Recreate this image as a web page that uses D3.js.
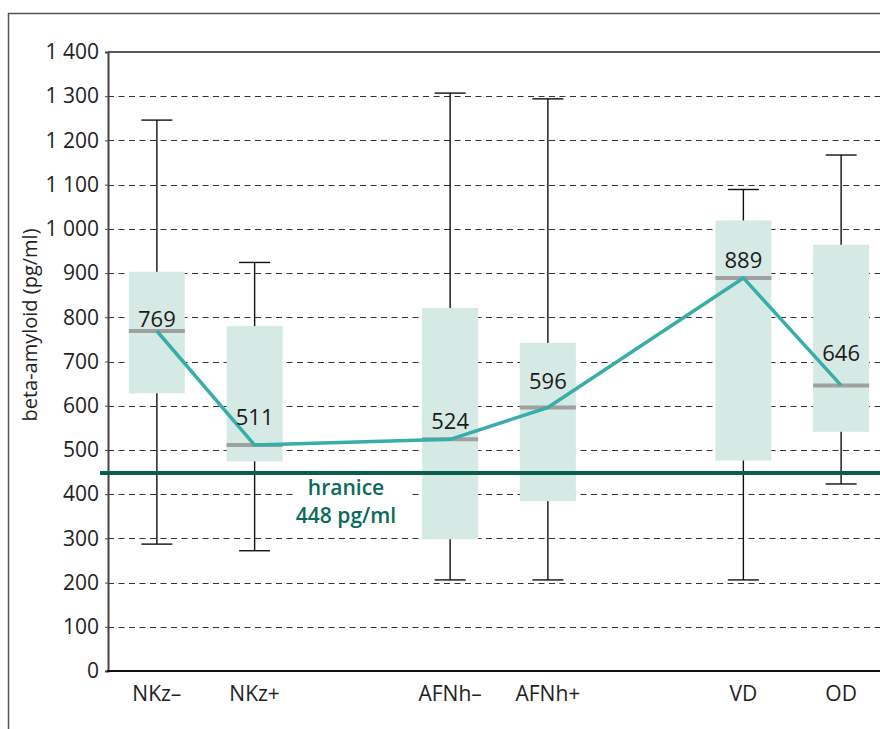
<!DOCTYPE html>
<html><head><meta charset="utf-8">
<script src="https://cdn.jsdelivr.net/npm/d3@7"></script>
<style>body{margin:0;background:#fff}svg{display:block}text{font-family:"Open Sans","Noto Sans",sans-serif}</style>
</head><body><svg id="c" width="880" height="729"></svg>
<script>
const slots = ["NKz–","NKz+","gap1","AFNh–","AFNh+","gap2","VD","OD"];
const categories = ["NKz–","NKz+","AFNh–","AFNh+","VD","OD"];
const whiskerLow  = [287, 272, 206, 206, 206, 423];
const boxLow      = [628, 474, 298, 384, 476, 541];
const median      = [769, 511, 524, 596, 889, 646];
const boxHigh     = [903, 780, 821, 742, 1019, 964];
const whiskerHigh = [1246, 924, 1307, 1294, 1089, 1167];
const medianLabels = ["769","511","524","596","889","646"];
const threshold = 448;
const thresholdLabel = ["hranice","448 pg/ml"];
const yTicks = [0,100,200,300,400,500,600,700,800,900,1000,1100,1200,1300,1400];
const yTitle = "beta-amyloid (pg/ml)";

const svg = d3.select("#c");
const x = d3.scalePoint().domain(slots).range([108, 890]).padding(0.5);
const y = d3.scaleLinear().domain([0,1400]).range([671, 52]);
const boxW = 56, capW = 31;
const labelDy = [-4, -20, -10, -18, -10, -24];
const fmt = v => d3.format(",")(v).replace(/,/g, " ");

// outer frame
svg.append("path").attr("d","M8.5,740V13.5H890").attr("fill","none").attr("stroke","#555").attr("stroke-width",1.5);

// gridlines
svg.append("g").selectAll("line").data(yTicks.filter(t=>t>0 && t<1400)).join("line")
  .attr("x1",108).attr("x2",890).attr("y1",d=>Math.round(y(d))+0.5).attr("y2",d=>Math.round(y(d))+0.5)
  .attr("stroke","#333").attr("stroke-width",1.2).attr("stroke-dasharray","6,4.5");
// top solid line
svg.append("line").attr("x1",108).attr("x2",890).attr("y1",y(1400)).attr("y2",y(1400)).attr("stroke","#222").attr("stroke-width",1.5);

// y axis
const yAxis = svg.append("g").attr("transform","translate(108,0)")
  .call(d3.axisLeft(y).tickValues(yTicks).tickFormat(fmt).tickSize(3).tickPadding(6));
yAxis.select(".domain").attr("stroke","#444").attr("stroke-width",2);
yAxis.selectAll(".tick line").attr("stroke","#444");
yAxis.selectAll("text").attr("font-size",21).attr("fill","#222").style("font-family",'"Open Sans",sans-serif');

// x axis baseline
svg.append("line").attr("x1",107).attr("x2",890).attr("y1",y(0)).attr("y2",y(0)).attr("stroke","#111").attr("stroke-width",2);
svg.append("g").selectAll("text").data(categories).join("text")
  .attr("x",d=>x(d)).attr("y",701).attr("text-anchor","middle").attr("font-size",21).attr("fill","#222").text(d=>d);

// y title
svg.append("text").attr("transform","translate(37,325) rotate(-90)").attr("text-anchor","middle")
  .attr("font-size",20).attr("fill","#222").text(yTitle);

const g = svg.append("g");
categories.forEach((c,i)=>{
  const cx = x(c);
  g.append("line").attr("x1",cx).attr("x2",cx).attr("y1",y(whiskerLow[i])).attr("y2",y(whiskerHigh[i])).attr("stroke","#111").attr("stroke-width",1.4);
  g.append("line").attr("x1",cx-capW/2).attr("x2",cx+capW/2).attr("y1",y(whiskerHigh[i])).attr("y2",y(whiskerHigh[i])).attr("stroke","#111").attr("stroke-width",1.4);
  g.append("line").attr("x1",cx-capW/2).attr("x2",cx+capW/2).attr("y1",y(whiskerLow[i])).attr("y2",y(whiskerLow[i])).attr("stroke","#111").attr("stroke-width",1.4);
  g.append("rect").attr("x",cx-boxW/2).attr("width",boxW).attr("y",y(boxHigh[i])).attr("height",y(boxLow[i])-y(boxHigh[i])).attr("fill","#d5eae4");
  g.append("line").attr("x1",cx-boxW/2).attr("x2",cx+boxW/2).attr("y1",y(median[i])).attr("y2",y(median[i])).attr("stroke","#a0a0a0").attr("stroke-width",4);
});

// threshold label background
svg.append("rect").attr("x",294).attr("y",y(threshold)+4).attr("width",114).attr("height",54).attr("fill","#fff");
// threshold
svg.append("line").attr("x1",100).attr("x2",890).attr("y1",y(threshold)).attr("y2",y(threshold)).attr("stroke","#0a5e50").attr("stroke-width",4);
svg.append("g").selectAll("text").data(thresholdLabel).join("text")
  .attr("x",346).attr("y",(d,i)=>y(threshold)+22+i*28).attr("text-anchor","middle")
  .attr("font-size",21).attr("font-weight",600).attr("fill","#0a6b5a").text(d=>d);

// median line
svg.append("path").datum(categories.map((c,i)=>[x(c),y(median[i])]))
  .attr("d",d3.line()).attr("fill","none").attr("stroke","#38adaa").attr("stroke-width",3.5).attr("stroke-linejoin","round");

// median labels
svg.append("g").selectAll("text").data(categories).join("text")
  .attr("x",d=>x(d)).attr("y",(d,i)=>y(median[i])+labelDy[i]).attr("text-anchor","middle")
  .attr("font-size",22).attr("fill","#1a1a1a").text((d,i)=>medianLabels[i]);
</script></body></html>
